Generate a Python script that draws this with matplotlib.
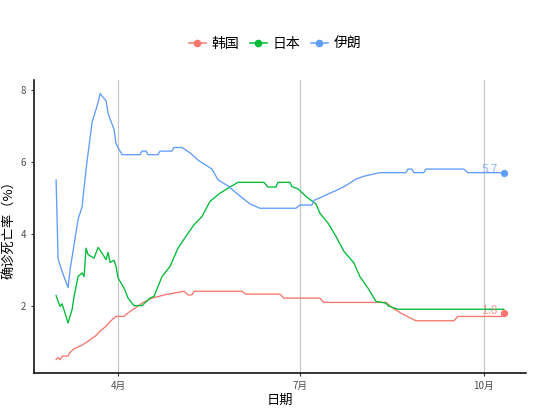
import numpy as np
import pandas as pd
import matplotlib
matplotlib.use("Agg")
import matplotlib.pyplot as plt
import matplotlib.dates as mdates

plt.rcParams['font.family'] = ['Noto Sans CJK SC', 'DejaVu Sans']

# Iran
iran_dates = ['03-01', '03-02', '03-04', '03-07', '03-08', '03-12', '03-14', '03-16',
              '03-19', '03-22', '03-23', '03-26', '03-27', '03-30', '03-31', '04-03',
              '04-12', '04-13', '04-15', '04-16', '04-21', '04-22', '04-28', '04-29',
              '05-03', '05-07', '05-11', '05-18', '05-21', '05-26', '06-01', '06-06',
              '06-11', '06-29', '07-01', '07-07', '07-08', '07-11', '07-16', '07-19',
              '07-23', '07-26', '07-29', '08-02', '08-10', '08-23', '08-24', '08-26',
              '08-27', '09-01', '09-02', '09-21', '09-23', '10-11']
iran_vals = [5.5, 3.3, 2.95, 2.5, 3.0, 4.4, 4.75, 5.8,
             7.1, 7.65, 7.9, 7.7, 7.35, 6.9, 6.5, 6.2,
             6.2, 6.3, 6.3, 6.2, 6.2, 6.3, 6.3, 6.4,
             6.4, 6.25, 6.05, 5.8, 5.5, 5.33, 5.05, 4.83,
             4.71, 4.71, 4.8, 4.8, 4.93, 5.0, 5.13, 5.2,
             5.31, 5.41, 5.52, 5.6, 5.7, 5.7, 5.8, 5.8,
             5.7, 5.7, 5.8, 5.8, 5.7, 5.7]

# Japan
japan_dates = ['03-01', '03-02', '03-03', '03-04', '03-07', '03-09', '03-10', '03-12',
               '03-14', '03-15', '03-16', '03-17', '03-20', '03-22', '03-24', '03-26',
               '03-27', '03-28', '03-30', '03-31', '04-01', '04-04', '04-06', '04-09',
               '04-13', '04-17', '04-19', '04-23', '04-27', '05-01', '05-05', '05-09',
               '05-13', '05-17', '05-22', '05-27', '05-31', '06-13', '06-15', '06-19',
               '06-20', '06-26', '06-27', '06-30', '07-04', '07-09', '07-11', '07-15',
               '07-19', '07-23', '07-28', '07-31', '08-04', '08-08', '08-13', '08-14',
               '08-19', '10-11']
japan_vals = [2.28, 2.12, 1.98, 2.05, 1.52, 1.89, 2.26, 2.81,
              2.91, 2.81, 3.6, 3.42, 3.32, 3.62, 3.46, 3.28,
              3.48, 3.2, 3.26, 3.09, 2.77, 2.49, 2.21, 2.0,
              2.0, 2.21, 2.26, 2.81, 3.09, 3.6, 3.93, 4.25,
              4.48, 4.9, 5.13, 5.3, 5.43, 5.43, 5.3, 5.3,
              5.43, 5.43, 5.31, 5.25, 5.04, 4.83, 4.57, 4.3,
              3.93, 3.51, 3.19, 2.81, 2.49, 2.12, 2.07, 2.0,
              1.9, 1.9]

# Korea
korea_dates = ['03-01', '03-02', '03-03', '03-04', '03-07', '03-08', '03-10', '03-14',
               '03-17', '03-21', '03-23', '03-26', '03-28', '03-31', '04-04', '04-06',
               '04-09', '04-13', '04-18', '04-25', '05-04', '05-06', '05-08', '05-09',
               '06-02', '06-04', '06-21', '06-23', '07-11', '07-13', '08-13', '08-16',
               '08-20', '08-23', '08-28', '09-16', '09-18', '10-10', '10-11']
korea_vals = [0.5, 0.55, 0.5, 0.59, 0.6, 0.7, 0.8, 0.9,
              1.01, 1.17, 1.29, 1.43, 1.56, 1.7, 1.7, 1.8,
              1.91, 2.07, 2.21, 2.31, 2.4, 2.3, 2.3, 2.4,
              2.4, 2.32, 2.32, 2.21, 2.21, 2.09, 2.09, 1.95,
              1.81, 1.72, 1.58, 1.58, 1.7, 1.7, 1.8]

names = ['韩国', '日本', '伊朗']
colors = ['#F8766D', '#00BA38', '#619CFF']
month_ticks = ['2020-04-01', '2020-07-01', '2020-10-01']
month_labels = ['4月', '7月', '10月']


def to_dates(ds):
    return pd.to_datetime(['2020-' + d for d in ds])


series = [(to_dates(korea_dates), korea_vals),
          (to_dates(japan_dates), japan_vals),
          (to_dates(iran_dates), iran_vals)]

fig = plt.figure(figsize=(5.5, 4.12), dpi=100)
ax = fig.add_axes([0.062, 0.095, 0.894, 0.711])

for (d, v), name, c in zip(series, names, colors):
    ax.plot(d, v, color=c, lw=0.95, label=name)

# end points + labels for Korea and Iran
for idx in [0, 2]:
    d, v = series[idx]
    ax.plot(d[-1], v[-1], 'o', color=colors[idx], markersize=4.2, zorder=5)
    ax.annotate('%.1f' % v[-1], (d[-1], v[-1]), xytext=(-4, 2),
                textcoords='offset points', ha='right', va='center',
                fontsize=8.5, color=colors[idx], alpha=0.7)

ticks = pd.to_datetime(month_ticks)
ax.set_xticks(ticks)
ax.set_xticklabels(month_labels)
ax.set_xlim(pd.Timestamp('2020-02-19'), pd.Timestamp('2020-10-22'))
ax.set_ylim(0.13, 8.28)
ax.set_yticks([2, 4, 6, 8])
ax.grid(axis='x', color='#C8C8C8', lw=0.9)
ax.set_axisbelow(True)

for s in ['top', 'right']:
    ax.spines[s].set_visible(False)
for s in ['left', 'bottom']:
    ax.spines[s].set_linewidth(1.1)
    ax.spines[s].set_color('black')
ax.tick_params(labelsize=7, colors='#4D4D4D', length=2.5, width=0.8)
ax.tick_params(axis='both', color='#333333')

ax.set_xlabel('日期', fontsize=9.5, labelpad=2)
ax.set_ylabel('确诊死亡率（%）', fontsize=9.5, labelpad=3)

leg_handles = [plt.Line2D([], [], color=c, lw=1.1, marker='o', markersize=4.5)
               for c in colors]
fig.legend(leg_handles, names, loc='center', bbox_to_anchor=(0.5, 0.893),
           ncol=3, frameon=False, fontsize=10, handlelength=1.2,
           handletextpad=0.4, columnspacing=0.8)

fig.savefig('out.png', dpi=100)
